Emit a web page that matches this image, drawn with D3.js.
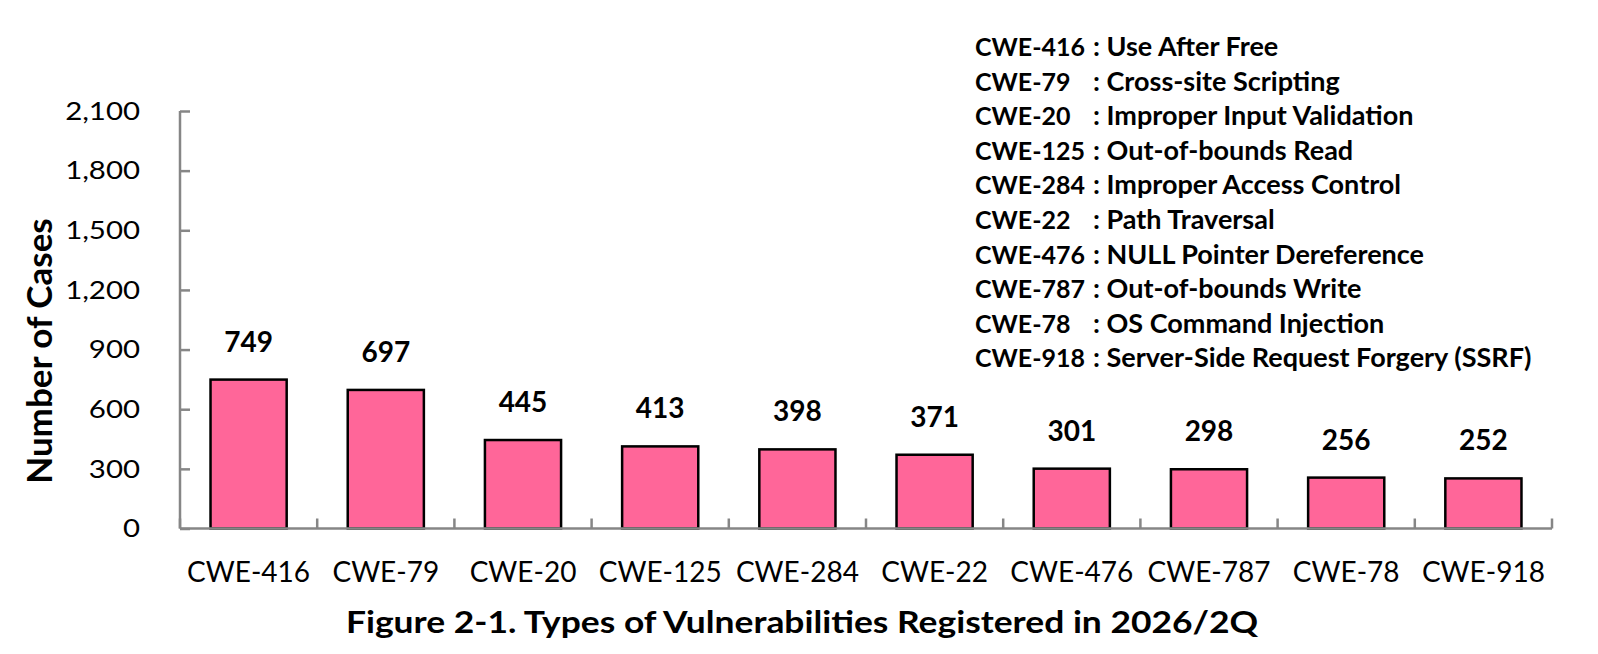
<!DOCTYPE html>
<html>
<head>
<meta charset="utf-8">
<script src="https://cdn.jsdelivr.net/npm/d3@7"></script>
<style>
  body { margin: 0; background: #fff; }
  svg { display: block; font-family: Lato, "Open Sans", sans-serif; }
</style>
</head>
<body>
<div id="graph"></div>
<script>
const categories = ['CWE-416', 'CWE-79', 'CWE-20', 'CWE-125', 'CWE-284', 'CWE-22', 'CWE-476', 'CWE-787', 'CWE-78', 'CWE-918'];
const counts = [749, 697, 445, 413, 398, 371, 301, 298, 256, 252];
const yTicks = [0, 300, 600, 900, 1200, 1500, 1800, 2100];
const legendCodes = ['CWE-416', 'CWE-79', 'CWE-20', 'CWE-125', 'CWE-284', 'CWE-22', 'CWE-476', 'CWE-787', 'CWE-78', 'CWE-918'];
const legendNames = ['Use After Free', 'Cross-site Scripting', 'Improper Input Validation', 'Out-of-bounds Read',
  'Improper Access Control', 'Path Traversal', 'NULL Pointer Dereference', 'Out-of-bounds Write',
  'OS Command Injection', 'Server-Side Request Forgery (SSRF)'];

const svgWidth = 1598, svgHeight = 654;
const plotLeft = 180, plotRight = 1552, plotTop = 111, plotBottom = 528.5;

const svg = d3.select('#graph').html('')
  .append('svg')
  .attr('width', svgWidth)
  .attr('height', svgHeight);

// scales
const xScale = d3.scaleBand()
  .domain(categories)
  .range([plotLeft, plotRight])
  .paddingInner(0.445)
  .paddingOuter(0.2225);
const step = xScale.step();

const yScale = d3.scaleLinear()
  .domain([0, 2100])
  .range([plotBottom, plotTop]);

// bars
svg.selectAll('.bar')
  .data(counts)
  .enter().append('rect')
  .classed('bar', true)
  .attr('x', (d, i) => xScale(categories[i]))
  .attr('y', d => yScale(d))
  .attr('width', xScale.bandwidth())
  .attr('height', d => plotBottom - yScale(d))
  .attr('fill', '#FF6699')
  .attr('stroke', '#000')
  .attr('stroke-width', 2.5);

// value labels
svg.selectAll('.val')
  .data(counts)
  .enter().append('text')
  .attr('x', (d, i) => xScale(categories[i]) + xScale.bandwidth() / 2)
  .attr('y', d => yScale(d) - 28)
  .attr('text-anchor', 'middle')
  .attr('font-size', 28)
  .attr('font-weight', 'bold')
  .attr('fill', '#000')
  .text(d => d);

// y axis
const yAxis = svg.append('g')
  .attr('transform', `translate(${plotLeft},0)`)
  .call(d3.axisRight(yScale).tickValues(yTicks).tickSize(10).tickFormat(''));
yAxis.select('.domain').attr('stroke', '#868686').attr('stroke-width', 2.5)
  .attr('d', `M0,${plotTop}V${plotBottom}`);
yAxis.selectAll('.tick line').attr('stroke', '#868686').attr('stroke-width', 2.5);

// tick labels are a bit wider than Lato, so stretch them horizontally
svg.selectAll('.ylab')
  .data(yTicks)
  .enter().append('text')
  .attr('transform', d => `translate(140,${yScale(d) + 8.8}) scale(1.2,1)`)
  .attr('text-anchor', 'end')
  .attr('font-size', 24.5)
  .attr('fill', '#000')
  .text(d => d3.format(',')(d));

// x axis: ticks between categories, pointing up
const xAxis = svg.append('g');
xAxis.append('line')
  .attr('x1', plotLeft).attr('x2', plotRight)
  .attr('y1', plotBottom).attr('y2', plotBottom)
  .attr('stroke', '#868686').attr('stroke-width', 2.5);
xAxis.selectAll('.xtick')
  .data(d3.range(categories.length + 1))
  .enter().append('line')
  .attr('x1', i => plotLeft + i * step).attr('x2', i => plotLeft + i * step)
  .attr('y1', plotBottom).attr('y2', plotBottom - 10)
  .attr('stroke', '#868686').attr('stroke-width', 2.5);

svg.selectAll('.xlab')
  .data(categories)
  .enter().append('text')
  .attr('x', d => xScale(d) + xScale.bandwidth() / 2)
  .attr('y', 582)
  .attr('text-anchor', 'middle')
  .attr('font-size', 28)
  .attr('fill', '#000')
  .text(d => d);

// axis title
svg.append('text')
  .attr('transform', 'translate(52,351) rotate(-90)')
  .attr('text-anchor', 'middle')
  .attr('font-size', 35)
  .attr('font-weight', 'bold')
  .text('Number of Cases');

// figure caption
svg.append('text')
  .attr('transform', 'translate(802,633) scale(1.18,1)')
  .attr('text-anchor', 'middle')
  .attr('font-size', 30)
  .attr('font-weight', 'bold')
  .text('Figure 2-1. Types of Vulnerabilities Registered in 2026/2Q');

// legend text block: codes, then colon-aligned names
const legend = svg.append('g');
legend.selectAll('.code')
  .data(legendCodes)
  .enter().append('text')
  .attr('x', 975)
  .attr('y', (d, i) => 56 + i * 34.6)
  .attr('font-size', 25)
  .attr('font-weight', 'bold')
  .text(d => d);
legend.selectAll('.name')
  .data(legendNames)
  .enter().append('text')
  .attr('x', 1093)
  .attr('y', (d, i) => 56 + i * 34.6)
  .attr('font-size', 27)
  .attr('font-weight', 'bold')
  .text(d => ': ' + d);
</script>
</body>
</html>
